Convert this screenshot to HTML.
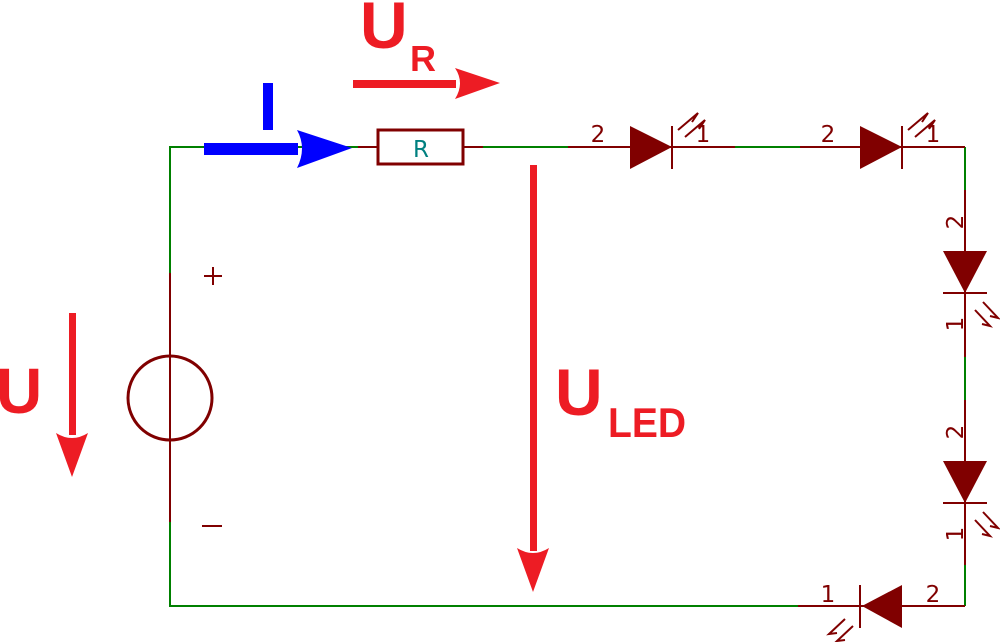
<!DOCTYPE html>
<html><head><meta charset="utf-8"><style>
html,body{margin:0;padding:0;background:#fff;}
svg{display:block;}
.n{font-family:"DejaVu Sans","Liberation Sans",sans-serif;font-size:23px;fill:#800000;}
.b{font-family:"Liberation Sans",sans-serif;font-weight:bold;fill:#ed1c24;}
</style></head><body>
<svg width="1000" height="642" viewBox="0 0 1000 642" xmlns="http://www.w3.org/2000/svg">
<g stroke="#008000" stroke-width="2" fill="none">
<polyline points="170,273 170,147 358,147"/>
<line x1="483" y1="147" x2="568" y2="147"/>
<line x1="735" y1="147" x2="800" y2="147"/>
<polyline points="170,522 170,606 798,606"/>
<line x1="965" y1="147" x2="965" y2="190"/>
<line x1="965" y1="357" x2="965" y2="400"/>
<line x1="965" y1="565" x2="965" y2="606"/>
</g>
<g stroke="#800000" stroke-width="2" fill="none">
<line x1="170" y1="273" x2="170" y2="522"/>
<circle cx="170" cy="398" r="42" stroke-width="3"/>
<line x1="358" y1="147" x2="378" y2="147"/>
<line x1="463" y1="147" x2="483" y2="147"/>
<rect x="378" y="130" width="85" height="34" stroke-width="3"/>
<line x1="568" y1="147" x2="735" y2="147"/>
<line x1="800" y1="147" x2="965" y2="147"/>
<line x1="965" y1="190" x2="965" y2="357"/>
<line x1="965" y1="400" x2="965" y2="565"/>
<line x1="798" y1="606" x2="965" y2="606"/>
<line x1="672" y1="126" x2="672" y2="169"/>
<line x1="902" y1="126" x2="902" y2="169"/>
<line x1="943" y1="293" x2="987" y2="293"/>
<line x1="943" y1="503" x2="987" y2="503"/>
<line x1="860" y1="585" x2="860" y2="628"/>
<line x1="204" y1="276" x2="222" y2="276"/><line x1="213" y1="267" x2="213" y2="285"/>
<line x1="202" y1="526" x2="222" y2="526"/>
<!-- rays -->
<polyline points="678,130 698,113 692,122"/><polyline points="685,137 705,120 699,129"/>
<polyline points="908,130 928,113 922,122"/><polyline points="915,137 935,120 929,129"/>
<polyline points="975,310 990,326 982,324"/><polyline points="983,302 998,318 990,316"/>
<polyline points="975,520 990,536 982,534"/><polyline points="983,512 998,528 990,526"/>
<polyline points="845,619 829,634 837,633"/><polyline points="853,626 837,641 845,640"/>
</g>
<g fill="#800000">
<polygon points="630,126 672,147 630,169"/>
<polygon points="860,126 902,147 860,169"/>
<polygon points="943,251 987,251 965,293"/>
<polygon points="943,461 987,461 965,503"/>
<polygon points="902,585 862,606 902,628"/>
</g>
<text class="n" x="598" y="142" text-anchor="middle">2</text>
<text class="n" x="703" y="142" text-anchor="middle">1</text>
<text class="n" x="828" y="142" text-anchor="middle">2</text>
<text class="n" x="933" y="142" text-anchor="middle">1</text>
<text class="n" x="828" y="602" text-anchor="middle">1</text>
<text class="n" x="933" y="602" text-anchor="middle">2</text>
<text class="n" transform="translate(963,222) rotate(-90)" text-anchor="middle">2</text>
<text class="n" transform="translate(963,324) rotate(-90)" text-anchor="middle">1</text>
<text class="n" transform="translate(963,432) rotate(-90)" text-anchor="middle">2</text>
<text class="n" transform="translate(963,534) rotate(-90)" text-anchor="middle">1</text>
<text x="421" y="157" text-anchor="middle" font-family="DejaVu Sans,sans-serif" font-size="23" fill="#008080">R</text>
<!-- blue I -->
<rect x="204" y="143" width="94" height="12" fill="#0000ff"/>
<path d="M297,130 L352,148 L297,168 Q307,148 297,130 Z" fill="#0000ff"/>
<rect x="263" y="83" width="10" height="47" fill="#0000ff"/>
<!-- UR -->
<rect x="353" y="80" width="103" height="8" fill="#ed1c24"/>
<path d="M455,68 L500,83 L455,99 Q465,83 455,68 Z" fill="#ed1c24"/>
<text class="b" x="360" y="48" font-size="66">U</text>
<text class="b" x="410" y="71" font-size="36">R</text>
<!-- U left -->
<rect x="69" y="313" width="7" height="122" fill="#ed1c24"/>
<path d="M56,433 Q72,443 88,433 L72,477 Z" fill="#ed1c24"/>
<text class="b" x="-4" y="413" font-size="64">U</text>
<!-- ULED -->
<rect x="530" y="165" width="7" height="386" fill="#ed1c24"/>
<path d="M517,548 Q533,558 549,548 L533,592 Z" fill="#ed1c24"/>
<text class="b" x="555" y="415" font-size="66">U</text>
<text class="b" x="608" y="437" font-size="42" textLength="78" lengthAdjust="spacingAndGlyphs">LED</text>
</svg>
</body></html>
